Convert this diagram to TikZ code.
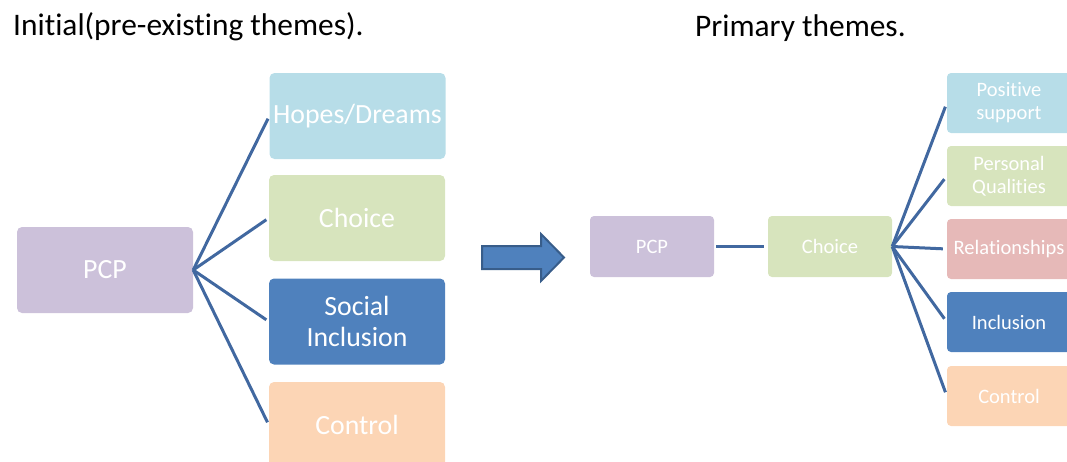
\documentclass[tikz,border=0pt]{standalone}
\usepackage{fontspec}
\setmainfont{Carlito}[Ligatures=NoCommon]
\usetikzlibrary{positioning}
\definecolor{ThemeLilac}{RGB}{204, 193, 218}
\definecolor{ThemeSky}{RGB}{183, 221, 232}
\definecolor{ThemeSage}{RGB}{215, 228, 189}
\definecolor{ThemeBlue}{RGB}{79, 129, 189}
\definecolor{ThemePeach}{RGB}{252, 213, 181}
\definecolor{ThemeRose}{RGB}{230, 185, 184}
\definecolor{LinkBlue}{RGB}{65, 104, 160}
\definecolor{EdgeBlue}{RGB}{56, 93, 138}
\tikzset{
    bigbox/.style={rounded corners=5pt, inner sep=0pt, text=white, align=center,
        minimum width=176pt, minimum height=86pt, font=\fontsize{27.8}{31}\selectfont},
    smallbox/.style={rounded corners=4pt, inner sep=0pt, text=white, align=center,
        minimum width=124pt, minimum height=61pt, font=\fontsize{20.5}{23}\selectfont},
    link/.style={LinkBlue, line width=3pt},
    heading/.style={anchor=base west, inner sep=0pt, font=\fontsize{31.4}{36}\selectfont}
}
\begin{document}
\begin{tikzpicture}[x=1pt, y=-1pt]
    \clip (0,0) rectangle (1067,461);
    % Titel
    \node[heading] (tInit) at (13,35) {Initial(pre-existing themes).};
    \node[heading] (tPrim) at (695,36) {Primary themes.};
    % Links
    \node[bigbox, fill=ThemeLilac] (pcpA) at (105,270) {PCP};
    \node[bigbox, fill=ThemeSky] (hope) at (357.5,116) {Hopes/Dreams};
    \node[bigbox, fill=ThemeSage] (choiceA) at (357,218) {Choice};
    \node[bigbox, fill=ThemeBlue] (social) at (357,321.5) {Social\\Inclusion};
    \node[bigbox, fill=ThemePeach] (ctrlA) at (357,425) {Control};
    \foreach \t in {hope, choiceA, social, ctrlA}
        \draw[link, shorten >=3pt] (pcpA.east) -- (\t.west);
    % Pfeil
    \draw[EdgeBlue, line width=2pt, fill=ThemeBlue, line join=miter]
        (482,246) -- (541,246) -- (541,234) -- (564,257.5) -- (541,281) -- (541,269) -- (482,269) -- cycle;
    % Rechts
    \node[smallbox, fill=ThemeLilac] (pcpB) at (652,246.5) {PCP};
    \node[smallbox, fill=ThemeSage] (choiceB) at (830,246.5) {Choice};
    \draw[link, shorten <=2pt, shorten >=4pt] (pcpB) -- (choiceB);
    \node[smallbox, fill=ThemeSky, minimum height=60pt] (posi) at (1009,103) {Positive\\support};
    \node[smallbox, fill=ThemeSage, minimum height=60pt] (pers) at (1009,176) {Personal\\Qualities};
    \node[smallbox, fill=ThemeRose, minimum height=60pt] (rela) at (1009,249) {Relationships};
    \node[smallbox, fill=ThemeBlue, minimum height=60pt] (incl) at (1009,322) {Inclusion};
    \node[smallbox, fill=ThemePeach, minimum height=60pt] (ctrlB) at (1009,396) {Control};
    \foreach \t in {posi, pers, rela, incl, ctrlB}
        \draw[link, shorten >=4pt] (choiceB.east) -- (\t.west);
\end{tikzpicture}
\end{document}
